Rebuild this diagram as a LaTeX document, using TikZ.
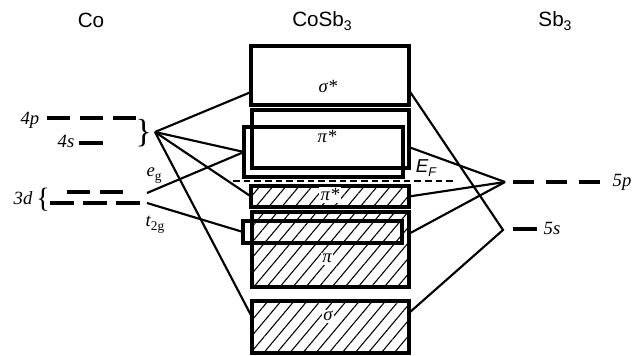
\documentclass[tikz,border=0pt]{standalone}
\usepackage{fontspec}
\setmainfont{Liberation Serif}
\setsansfont{Liberation Sans}
\usetikzlibrary{patterns.meta,calc}
\newdimen\pxu \pxu=0.75pt
\begin{document}
\begin{tikzpicture}[x=0.75pt,y=-0.75pt,
  band/.style={draw,line width=2.3pt,inner sep=0,outer sep=0},
  hatched/.style={pattern={Lines[angle=50,distance=7.5pt,line width=0.8pt]}},
  conn/.style={line width=1.6pt},
  level/.style={line width=2.5pt},
  lbl/.style={font=\fontsize{14}{14}\selectfont\itshape,inner sep=0,anchor=base},
  blbl/.style={font=\fontsize{14}{14}\selectfont\itshape,inner sep=1.2pt,anchor=base,fill=white},
  head/.style={font=\sffamily\fontsize{15.5}{16}\selectfont,inner sep=0,anchor=base}]
\useasboundingbox (0,0) rectangle (644,356);

% headings
\node[head] (hco) at (91,28) {Co};
\node[head] (hcosb) at (322,27) {CoSb\raisebox{-0.35ex}{\fontsize{10.5}{11}\selectfont 3}};
\node[head] (hsb) at (555,27) {Sb\raisebox{-0.35ex}{\fontsize{10.5}{11}\selectfont 3}};

% bands
\node[band,minimum width=158\pxu,minimum height=59\pxu] (sigmastar) at (330,75.5) {};
\node[band,minimum width=157\pxu,minimum height=58\pxu] (pistarU) at (330.5,139) {};
\node[band,minimum width=159\pxu,minimum height=50\pxu] (pistarR) at (323.5,152) {};
\node[band,hatched,minimum width=158\pxu,minimum height=21\pxu] (pistarL) at (330,196.5) {};
\node[band,hatched,minimum width=157\pxu,minimum height=75\pxu] (pibox) at (330.5,249.5) {};
\node[band,minimum width=159\pxu,minimum height=22\pxu] (piR) at (322.5,232) {};
\node[band,hatched,minimum width=157\pxu,minimum height=52\pxu] (sigma) at (330.5,327) {};

% band labels
\node[lbl] (tsigstar) at (328,93) {σ*};
\node[lbl] (tpistarU) at (327,143) {π*};
\node[blbl] (tpistarL) at (330,201) {π*};
\node[blbl] (tpi) at (327,263) {π};
\node[blbl] (tsig) at (328,321) {σ};

% Fermi level
\coordinate (efL) at (233,181);
\coordinate (efR) at (453,181);
\draw[line width=1.2pt,dash pattern=on 5pt off 3pt] (efL) -- (efR);
\node[font=\sffamily\itshape\fontsize{14}{14}\selectfont,inner sep=0,anchor=base] (ef) at (426,173) {E\raisebox{-0.4ex}{\fontsize{9.5}{9}\selectfont F}};

% Co levels
\coordinate (p4pA) at (47,118);  \coordinate (p4pB) at (137,118);
\draw[level,dash pattern=on 17.25pt off 7.5pt] (p4pA) -- (p4pB);
\coordinate (p4sA) at (79,143);  \coordinate (p4sB) at (103,143);
\draw[level] (p4sA) -- (p4sB);
\coordinate (d3uA) at (67,192);  \coordinate (d3uB) at (123,192);
\draw[level,dash pattern=on 17.25pt off 7.5pt] (d3uA) -- (d3uB);
\coordinate (d3lA) at (50,203);  \coordinate (d3lB) at (140,203);
\draw[level,dash pattern=on 18pt off 6.75pt] (d3lA) -- (d3lB);
\node[lbl] (t4p) at (30,125) {4p};
\node[lbl] (t4s) at (66,148) {4s};
\node[lbl] (t3d) at (23,205) {3d};
\node[inner sep=0,font=\fontsize{25}{25}\selectfont] (br4) at (143.5,133) {\}};
\node[inner sep=0,font=\fontsize{21}{21}\selectfont] (br3) at (43,200) {\{};
\node[lbl] (teg) at (154,177) {e\raisebox{-0.45ex}{\upshape\fontsize{10}{10}\selectfont g}};
\node[lbl] (tt2g) at (155,227) {t\raisebox{-0.45ex}{\upshape\fontsize{10}{10}\selectfont 2g}};

% Sb levels
\coordinate (p5pA) at (513,182); \coordinate (p5pB) at (602,182);
\draw[level,dash pattern=on 15.75pt off 9pt] (p5pA) -- (p5pB);
\coordinate (p5sA) at (513,229); \coordinate (p5sB) at (537,229);
\draw[level] (p5sA) -- (p5sB);
\node[lbl] (t5p) at (622,187) {5p};
\node[lbl] (t5s) at (552,235) {5s};

% connector junctions
\coordinate (bp) at (155,132);
\coordinate (eg) at (147,193);
\coordinate (tg) at (147,203);
\coordinate (p5p) at (505,182);
\coordinate (p5s) at (503,230);

% left connectors
\draw[conn] (bp) -- ($(sigmastar.north west)!0.78!(sigmastar.south west)$);
\draw[conn] (bp) -- (pistarR.west);
\draw[conn] (bp) -- (pistarL.west);
\draw[conn] (bp) -- ($(sigma.north west)!0.31!(sigma.south west)$);
\draw[conn] (eg) -- (pistarR.west);
\draw[conn] (tg) -- (piR.west);

% right connectors
\draw[conn,line join=miter] ($(sigmastar.north east)!0.75!(sigmastar.south east)$) -- (p5s) -- ($(sigma.north east)!0.23!(sigma.south east)$);
\draw[conn] ($(pistarU.north east)!0.64!(pistarU.south east)$) -- (p5p);
\draw[conn] (pistarL.east) -- (p5p);
\draw[conn] ($(pibox.north east)!0.29!(pibox.south east)$) -- (p5p);
\end{tikzpicture}
\end{document}
